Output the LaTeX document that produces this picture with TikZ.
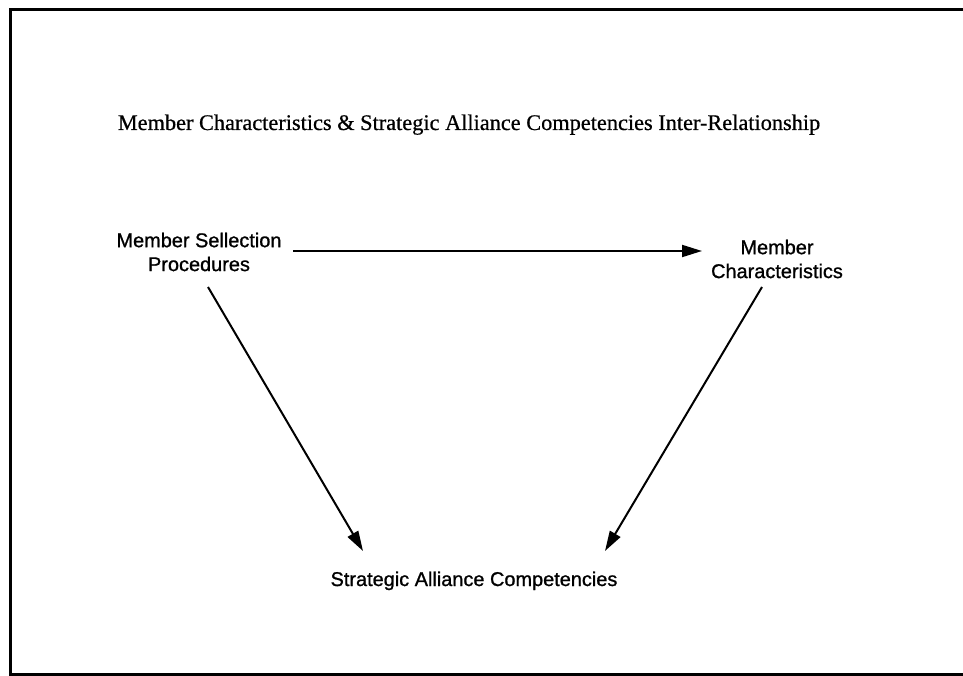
\documentclass[tikz,border=0pt]{standalone}
\usepackage{fontspec}
\setmainfont{Liberation Serif}[FakeBold=0.6]
\newfontfamily\labelfont{Liberation Sans}[FakeBold=1]
\usetikzlibrary{arrows.meta}
\begin{document}
\begin{tikzpicture}[x=1bp,y=-1bp,
  frame/.style={line width=3bp},
  title/.style={font=\fontsize{22.4}{26}\selectfont, inner sep=0pt, anchor=base},
  concept/.style={font=\labelfont\fontsize{20}{24}\selectfont, align=center, inner sep=0pt},
  link/.style={line width=2bp, -{Triangle[length=20bp,width=12bp]}}]
  % page and open-sided frame
  \useasboundingbox (0,0) rectangle (963,676);
  \fill[white] (0,0) rectangle (963,676);
  \draw[frame] (963,10) -- (10,10) -- (10,674) -- (963,674);

  % heading
  \node[title] (head) at (469,130) {Member Characteristics \& Strategic Alliance Competencies Inter-Relationship};

  % the three concepts
  \node[concept] (msp) at (199,252) {Member Sellection\\Procedures};
  \node[concept] (mc)  at (777,259) {Member\\Characteristics};
  \node[concept, anchor=base] (sac) at (474,586) {Strategic Alliance Competencies};

  % connector ends
  \coordinate (msp-r) at (293,251);
  \coordinate (mc-l)  at (702,251);
  \coordinate (msp-b) at (208,287);
  \coordinate (mc-b)  at (762,287);
  \coordinate (sac-l) at (363,551);
  \coordinate (sac-r) at (605,551);

  \draw[link] (msp-r) -- (mc-l);
  \draw[link] (msp-b) -- (sac-l);
  \draw[link] (mc-b) -- (sac-r);
\end{tikzpicture}
\end{document}
